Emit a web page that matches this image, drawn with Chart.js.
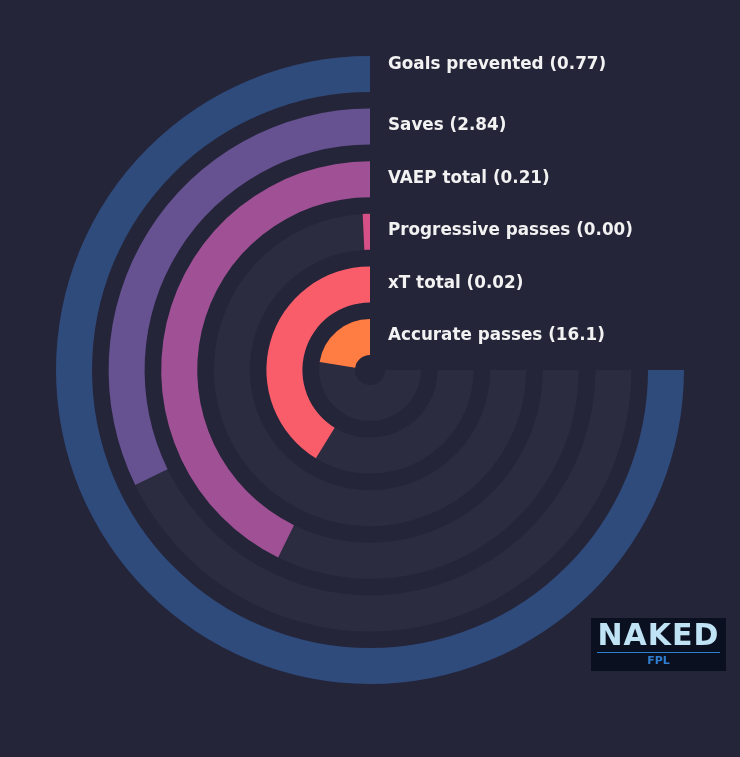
<!DOCTYPE html>
<html><head><meta charset="utf-8">
<script src="https://cdn.jsdelivr.net/npm/chart.js@4"></script>
<style>
html,body{margin:0;padding:0;background:#25253a;width:740px;height:757px;overflow:hidden;font-family:"DejaVu Sans",sans-serif}
#wrap{position:absolute;left:56px;top:56px;width:628px;height:628px}
#logo{position:absolute;left:591px;top:618px;width:135px;height:53px;background:#0b1020;text-align:center;color:#bfe3f5}
#logo .n{font-weight:bold;font-size:30px;line-height:34px;letter-spacing:1px}
#logo .f{font-size:11px;color:#2f7fd0;border-top:1px solid #2f7fd0;margin:0 6px;line-height:16px;font-weight:bold}
</style></head><body>
<div id="wrap"><canvas id="c"></canvas></div>
<div id="logo"><div class="n">NAKED</div><div class="f">FPL</div></div>
<script>
const labels = ["Goals prevented (0.77)","Saves (2.84)","VAEP total (0.21)","Progressive passes (0.00)","xT total (0.02)","Accurate passes (16.1)"];
const fractions = [1.0, 0.43, 0.57, 0.01, 0.55, 0.30];
const colors = ["#2f4b7c","#665191","#a05195","#d45087","#f95d6a","#ff7c43"];
const track = "#2c2c40";
const datasets = [];
fractions.forEach((f,i)=>{
  if(i>0) datasets.push({data:[1],backgroundColor:["rgba(0,0,0,0)"],borderWidth:0,weight:16.6,spacer:true});
  datasets.push({data:[1-f,f],backgroundColor:[track,colors[i]],borderWidth:0,weight:36,label:labels[i]});
});
const labelPlugin={id:'lbl',afterDatasetsDraw(chart){
  const ctx=chart.ctx;ctx.save();
  ctx.font='bold 16.8px "DejaVu Sans"';ctx.fillStyle='#f2f2f2';ctx.textBaseline='middle';
  let k=0;
  chart.data.datasets.forEach((d,i)=>{
    if(d.spacer) return;
    const a=chart.getDatasetMeta(i).data[0];
    const r=(a.innerRadius+a.outerRadius)/2;
    const extra = (k===0)?8:0; k++;
    ctx.fillText(d.label,a.x+18,a.y-r-1-extra);
  });
  ctx.restore();
}};
new Chart(document.getElementById('c'),{
  type:'doughnut',
  data:{labels:['rest','value'],datasets},
  options:{responsive:true,maintainAspectRatio:false,animation:false,
    rotation:90,circumference:270,cutout:15,
    layout:{padding:0},
    plugins:{legend:{display:false},tooltip:{enabled:false}}},
  plugins:[labelPlugin]
});
</script>
</body></html>
